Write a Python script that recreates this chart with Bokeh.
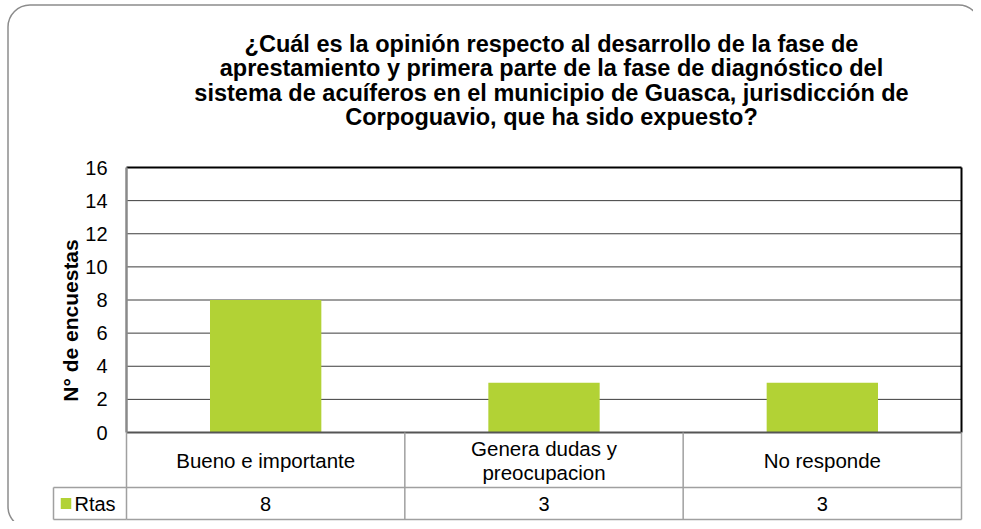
from bokeh.plotting import figure
from bokeh.models import Range1d
from bokeh.core.properties import value
from bokeh.embed import file_html
from bokeh.resources import INLINE

# ---- data ----
categories = ["Bueno e importante", "Genera dudas y preocupacion", "No responde"]
cat_labels = ["Bueno e importante", "Genera dudas y\npreocupacion", "No responde"]
series_name = "Rtas"
values = [8, 3, 3]
y_ticks = [0, 2, 4, 6, 8, 10, 12, 14, 16]
title_lines = [
    "¿Cuál es la opinión respecto al desarrollo de la fase de",
    "aprestamiento y primera parte de la fase de diagnóstico del",
    "sistema de acuíferos en el municipio de Guasca, jurisdicción de",
    "Corpoguavio, que ha sido expuesto?",
]
y_title = "N° de encuestas"

# ---- layout (picture pixel coordinates) ----
W, H = 973, 521
OX, OY = 0, 0
PL, PR, PT, PB = 126, 961, 167, 432
YMAX = 16
n = len(categories)
ux = (PR - PL) / n
uy = (PB - PT) / YMAX
x_start = -(PL - OX) / ux
x_end = n + (OX + W - PR) / ux
y_end = YMAX + (PT - OY) / uy
y_start = -(OY + H - PB) / uy

FONT = value("Liberation Sans")
BAR = "#b2d235"
TBL = "#a0a0a0"

p = figure(width=W, height=H, x_range=Range1d(x_start, x_end), y_range=Range1d(y_start, y_end),
           min_border=0, toolbar_location=None, output_backend="svg",
           x_axis_location=None, y_axis_location=None)
p.grid.visible = False
p.outline_line_color = None
p.background_fill_color = "white"
p.border_fill_color = "white"
p.extra_x_ranges = {"px": Range1d(OX, OX + W)}
p.extra_y_ranges = {"px": Range1d(OY + H, OY)}

# outer rounded border (right/bottom edges fall just outside the picture, as in the reference)
p.quad(left=[7.5], right=[980], top=[4.5], bottom=[528], border_radius=22,
       fill_color=None, line_color="#8c8c8c", line_width=1.5,
       x_range_name="px", y_range_name="px")

# title
for i, line in enumerate(title_lines):
    p.text(x=[551], y=[43 + i * 24.6], text=[line], text_font=FONT, text_font_size="23.5px",
           text_font_style="bold", text_align="center", text_baseline="middle",
           text_color="black", x_range_name="px", y_range_name="px")

# gridlines
grid_ticks = [t for t in y_ticks if 0 < t < YMAX]
p.segment(x0=[0] * len(grid_ticks), x1=[n] * len(grid_ticks), y0=grid_ticks, y1=grid_ticks,
          line_color="#3c3c3c", line_width=1)

# bars
p.vbar(x=[i + 0.5 for i in range(n)], top=values, bottom=0, width=0.4,
       fill_color=BAR, line_color=None)

# plot frame lines
p.segment(x0=[0], x1=[n], y0=[YMAX], y1=[YMAX], line_color="black", line_width=2)
p.segment(x0=[n], x1=[n], y0=[0], y1=[YMAX], line_color="black", line_width=2)
p.segment(x0=[0], x1=[n], y0=[0], y1=[0], line_color="#555555", line_width=2)
p.segment(x0=[0], x1=[0], y0=[0], y1=[YMAX], line_color="#8a8a8a", line_width=2.5)

# y tick labels
p.text(x=[107] * len(y_ticks), y=y_ticks, text=[str(t) for t in y_ticks], text_font=FONT,
       text_font_size="20px", text_align="right", text_baseline="middle", text_color="black",
       x_range_name="px")

# y axis title
p.text(x=[70], y=[320], text=[y_title], angle=1.5707963, text_font=FONT, text_font_size="21px",
       text_font_style="bold", text_align="center", text_baseline="middle", text_color="black",
       x_range_name="px", y_range_name="px")

# data table
row1_bot, row2_bot, leg_left = 487, 519, 53
p.segment(x0=[0], x1=[n], y0=[row1_bot], y1=[row1_bot], line_color=TBL, line_width=1.5,
          y_range_name="px")
p.segment(x0=[0], x1=[n], y0=[row2_bot], y1=[row2_bot], line_color=TBL, line_width=1.5,
          y_range_name="px")
p.segment(x0=[leg_left, leg_left], x1=[PL, PL], y0=[row1_bot, row2_bot], y1=[row1_bot, row2_bot],
          line_color=TBL, line_width=1.5, x_range_name="px", y_range_name="px")
xs = list(range(n + 1))
p.segment(x0=xs, x1=xs, y0=[PB] * len(xs), y1=[row2_bot] * len(xs), line_color=TBL,
          line_width=1.5, y_range_name="px")
p.segment(x0=[leg_left], x1=[leg_left], y0=[row1_bot], y1=[row2_bot], line_color=TBL,
          line_width=1.5, x_range_name="px", y_range_name="px")
p.text(x=[i + 0.5 for i in range(n)], y=[460] * n, text=cat_labels, text_font=FONT,
       text_font_size="20.5px", text_align="center", text_baseline="middle", text_color="black",
       text_line_height=1.05, y_range_name="px")
p.text(x=[i + 0.5 for i in range(n)], y=[503.5] * n, text=[str(v) for v in values], text_font=FONT,
       text_font_size="20px", text_align="center", text_baseline="middle", text_color="black",
       y_range_name="px")
p.rect(x=[65.5], y=[503], width=10.5, height=11, width_units="screen", height_units="screen",
       fill_color=BAR, line_color=None, x_range_name="px", y_range_name="px")
p.text(x=[74], y=[503.5], text=[series_name], text_font=FONT, text_font_size="20px",
       text_align="left", text_baseline="middle", text_color="black",
       x_range_name="px", y_range_name="px")

open("out.html", "w").write(file_html(p, INLINE))
